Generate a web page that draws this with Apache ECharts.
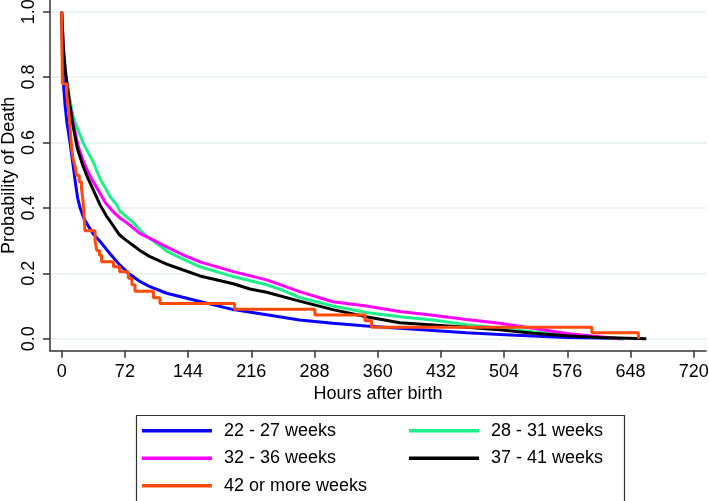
<!DOCTYPE html>
<html>
<head>
<meta charset="utf-8">
<script src="https://cdn.jsdelivr.net/npm/echarts@6/dist/echarts.min.js"></script>
<style>html,body{margin:0;padding:0;background:#fff;}#c{width:709px;height:501px;}</style>
</head>
<body>
<div id="c"></div>
<script>
const seriesNames = ['22 - 27 weeks', '28 - 31 weeks', '32 - 36 weeks', '37 - 41 weeks', '42 or more weeks'];
const xTicks = [0, 72, 144, 216, 288, 360, 432, 504, 576, 648, 720];
const yTicks = [0, 0.2, 0.4, 0.6, 0.8, 1.0];

const w22_27 = [[0,1.0],[1,0.85],[2,0.78],[4,0.71],[6,0.66],[9.5,0.6],[13,0.53],[16,0.47],[18.2,0.43],[21,0.40],[25,0.37],[30.3,0.345],[36,0.32],[43.6,0.298],[55,0.26],[66.4,0.225],[76,0.2],[88,0.177],[100.6,0.159],[119.6,0.139],[157.5,0.114],[195.5,0.089],[233.5,0.073],[271,0.057],[309,0.047],[347,0.039],[385,0.032],[423,0.025],[461,0.018],[499,0.013],[537,0.008],[575,0.004],[613,0.002],[640,0]];
const w28_31 = [[0,1.0],[2,0.9],[5,0.8],[9.5,0.73],[13,0.68],[17,0.65],[24.6,0.598],[36,0.54],[43.6,0.49],[49,0.465],[55,0.435],[62.6,0.41],[66.4,0.39],[81.6,0.355],[93,0.322],[104,0.300],[119.6,0.268],[138.5,0.243],[157.5,0.22],[195.5,0.19],[233.5,0.165],[250,0.15],[271,0.126],[309,0.1],[347,0.08],[385,0.067],[423,0.057],[461,0.043],[499,0.032],[537,0.021],[575,0.011],[613,0.004],[640,0]];
const w32_36 = [[0,1.0],[2,0.88],[5,0.8],[9,0.72],[13,0.66],[19,0.587],[25,0.54],[30,0.51],[36,0.48],[43.6,0.445],[50,0.415],[58.8,0.388],[66,0.37],[74,0.355],[89,0.322],[104,0.302],[119.6,0.281],[138.5,0.256],[157.5,0.235],[195.5,0.205],[233.5,0.18],[271,0.144],[309,0.113],[347,0.1],[385,0.083],[423,0.072],[461,0.059],[499,0.047],[537,0.032],[575,0.016],[613,0.006],[636,0]];
const w37_41 = [[0,1.0],[2,0.88],[4,0.82],[6,0.78],[9,0.72],[13,0.65],[18,0.58],[24.6,0.526],[30,0.49],[36,0.455],[43.6,0.41],[51,0.375],[55,0.36],[66,0.317],[74,0.30],[81.6,0.285],[89,0.27],[100.6,0.251],[119.6,0.228],[138.5,0.210],[157.5,0.192],[195.5,0.168],[214.5,0.152],[233.5,0.142],[271,0.115],[309,0.089],[347,0.067],[385,0.049],[423,0.042],[461,0.035],[499,0.027],[537,0.017],[575,0.009],[613,0.004],[666,0]];
const w42plus = [[0,1.0],[0.8,0.78],[6,0.74],[8,0.70],[9.5,0.65],[10.5,0.61],[11.5,0.58],[13,0.55],[15,0.53],[17,0.50],[20,0.48],[22.5,0.46],[24,0.43],[25,0.40],[26.5,0.33],[38,0.30],[40,0.27],[43,0.255],[45.5,0.235],[59,0.22],[66,0.205],[76,0.185],[80,0.165],[83.5,0.145],[104.5,0.125],[112,0.108],[197,0.09],[288.5,0.0725],[345.5,0.055],[353,0.035],[604,0.018],[657,0.0]];

const colors = ['#0a00ff', '#1df08a', '#ff00ff', '#000000', '#ff4a0a'];
const dataSets = [w22_27, w28_31, w32_36, w37_41, w42plus];

const chart = echarts.init(document.getElementById('c'));
const font = 'Liberation Sans, Arial, Helvetica, sans-serif';
const series = dataSets.map((d, i) => ({
  name: seriesNames[i],
  type: 'line',
  data: d,
  step: i === 4 ? 'end' : false,
  showSymbol: false,
  symbol: 'none',
  lineStyle: { color: colors[i], width: 3 },
  itemStyle: { color: colors[i] },
  z: 2 + i,
  animation: false
}));
const legendText = { fontSize: 18, color: '#000', fontFamily: font, lineHeight: 27.5, padding: [0, 0, 0, 7] };
chart.setOption({
  animation: false,
  backgroundColor: '#fff',
  grid: { left: 50, right: 3, top: 0, bottom: 150.3, containLabel: false, outerBoundsMode: 'none' },
  xAxis: {
    type: 'value', min: -13.3, max: 734,
    name: 'Hours after birth', nameLocation: 'middle', nameGap: 34, nameMoveOverlap: false,
    nameTextStyle: { fontSize: 18, color: '#000', fontFamily: font },
    axisLine: { show: true, onZero: false, lineStyle: { color: '#333', width: 1.5 } },
    axisTick: { show: true, length: 7, customValues: xTicks, lineStyle: { color: '#333', width: 1.5 } },
    axisLabel: { customValues: xTicks, fontSize: 18, color: '#000', fontFamily: font, margin: 12 },
    splitLine: { show: false }
  },
  yAxis: {
    type: 'value', min: -0.0367, max: 1.0358,
    name: 'Probability of Death', nameLocation: 'middle', nameGap: 32, nameMoveOverlap: false,
    nameTextStyle: { fontSize: 18, color: '#000', fontFamily: font },
    axisLine: { show: true, onZero: false, lineStyle: { color: '#333', width: 1.5 } },
    axisTick: { show: true, length: 7, customValues: yTicks, lineStyle: { color: '#333', width: 1.5 } },
    axisLabel: { customValues: yTicks, rotate: 90, fontSize: 18, color: '#000', fontFamily: font, margin: 12,
      formatter: v => v.toFixed(1) },
    splitLine: { show: true, lineStyle: { color: '#e6efef', width: 1.5 } }
  },
  legend: [
    { orient: 'vertical', left: 142, top: 417, padding: 0, height: 84, itemWidth: 70, itemHeight: 3.5, itemGap: 0,
      icon: 'rect',
      data: [seriesNames[0], seriesNames[2], seriesNames[4]],
      textStyle: legendText },
    { orient: 'vertical', left: 409, top: 417, padding: 0, height: 84, itemWidth: 70, itemHeight: 3.5, itemGap: 0,
      icon: 'rect',
      data: [seriesNames[1], seriesNames[3]],
      textStyle: legendText }
  ],
  graphic: [
    { type: 'rect', left: 134, top: 413, shape: { width: 488, height: 86 },
      style: { fill: 'none', stroke: '#333', lineWidth: 1.2 }, silent: true }
  ],
  series: series
});
</script>
</body>
</html>
